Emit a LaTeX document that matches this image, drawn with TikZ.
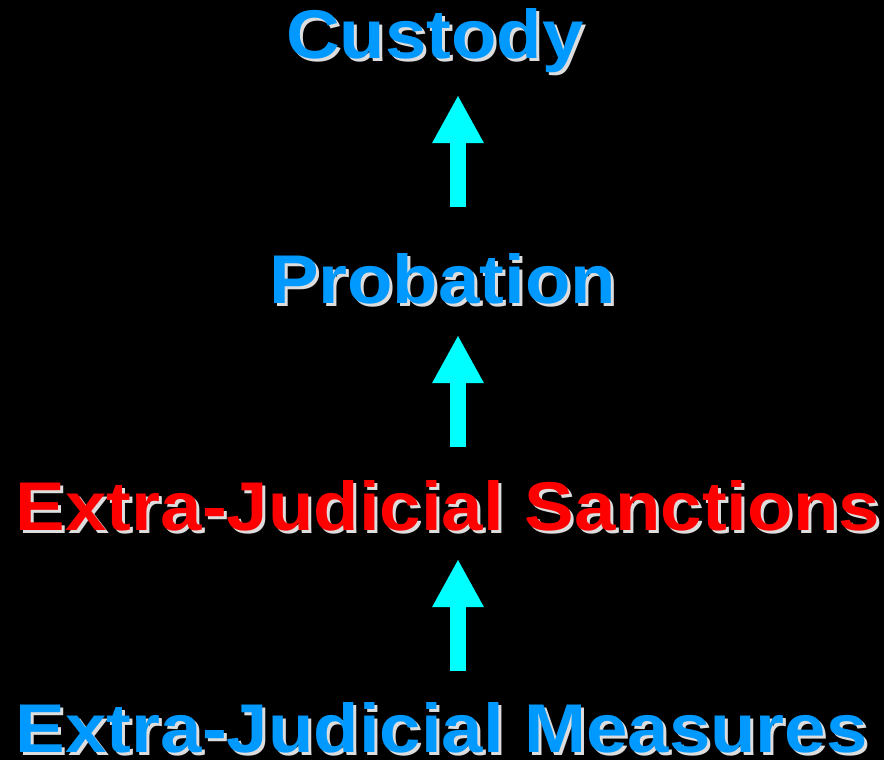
\documentclass[tikz,border=0pt]{standalone}
\usepackage{fontspec}
\newfontfamily\slidefont{Liberation Sans}[FakeStretch=1.078]
\usetikzlibrary{arrows.meta}
\definecolor{skyblue}{HTML}{0099FF}
\definecolor{slidered}{HTML}{FF0000}
\definecolor{arrowcyan}{HTML}{00FFFF}
\definecolor{shadowgray}{HTML}{DDDDDD}
\tikzset{
  label text/.style={inner sep=0pt, outer sep=0pt, anchor=base west,
    font=\slidefont\bfseries\fontsize{69}{69}\selectfont},
  shadow text/.style={label text, text=shadowgray},
  up arrow/.style={draw=arrowcyan, line width=16pt,
    -{Triangle[width=48pt,length=48pt]}, shorten >=0pt}
}
\begin{document}
\begin{tikzpicture}[x=1pt,y=-1pt]
\fill[black] (0,0) rectangle (884,760);
\useasboundingbox (0,0) rectangle (884,760);
% shadows
\node[shadow text] (custodyS) at (289,62) {Custody};
\node[shadow text] (probationS) at (272,306) {Probation};
\node[shadow text] (ejsS) at (19,533) {Extra-Judicial Sanctions};
\node[shadow text] (ejmS) at (19,755) {Extra-Judicial Measures};
% texts
\node[label text, text=skyblue] (custody) at (286,59) {Custody};
\node[label text, text=skyblue] (probation) at (269,303) {Probation};
\node[label text, text=slidered] (ejs) at (16,530) {Extra-Judicial Sanctions};
\node[label text, text=skyblue] (ejm) at (16,752) {Extra-Judicial Measures};
% arrow end points
\coordinate (a1s) at (458,207); \coordinate (a1t) at (458,95);
\coordinate (a2s) at (458,447); \coordinate (a2t) at (458,335);
\coordinate (a3s) at (458,671); \coordinate (a3t) at (458,559);
\draw[up arrow] (a1s) -- (a1t);
\draw[up arrow] (a2s) -- (a2t);
\draw[up arrow] (a3s) -- (a3t);
\end{tikzpicture}
\end{document}
